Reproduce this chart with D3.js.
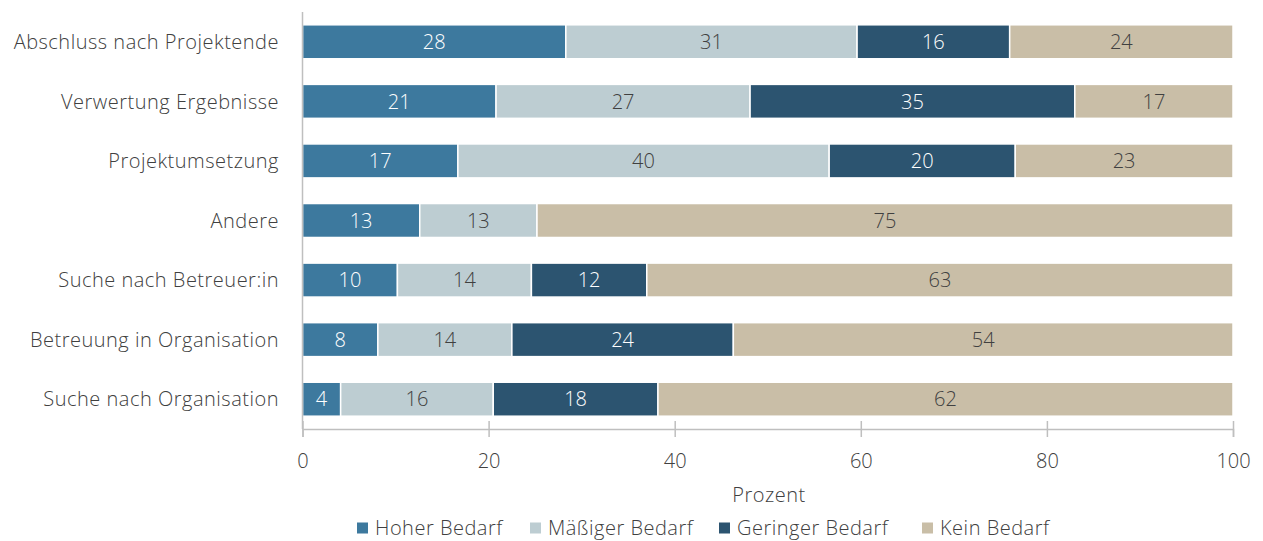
<!DOCTYPE html>
<html>
<head>
<meta charset="utf-8">
<script src="https://cdn.jsdelivr.net/npm/d3@7"></script>
<style>
  body { margin: 0; background: #fff; }
  text { font-family: "Open Sans", sans-serif; font-weight: 300; }
</style>
</head>
<body>
<script>
var w = 1263;
var h = 541;

var categories = ["Abschluss nach Projektende", "Verwertung Ergebnisse", "Projektumsetzung", "Andere",
                  "Suche nach Betreuer:in", "Betreuung in Organisation", "Suche nach Organisation"];
var seriesNames = ["Hoher Bedarf", "Mäßiger Bedarf", "Geringer Bedarf", "Kein Bedarf"];
var seriesColors = ["#3d799e", "#bdcdd2", "#2c5470", "#c9bea7"];
var labelColors = ["#ffffff", "#404040", "#ffffff", "#404040"];

// percent per category
var hoher    = [28.3, 20.8, 16.7, 12.6, 10.2,  8.1,  4.1];
var maessig  = [31.3, 27.3, 39.9, 12.6, 14.4, 14.4, 16.4];
var geringer = [16.4, 34.9, 20.0,  0.0, 12.4, 23.8, 17.7];
var kein     = [24.0, 17.0, 23.4, 74.8, 63.0, 53.7, 61.8];
var xTicks = [0, 20, 40, 60, 80, 100];

var margin = {left: 302.5, right: 30, top: 12, bottom: 112};
var fontSize = "20px";

var rows = categories.map(function(c, i) {
  return {cat: c, "Hoher Bedarf": hoher[i], "Mäßiger Bedarf": maessig[i],
          "Geringer Bedarf": geringer[i], "Kein Bedarf": kein[i]};
});

var stack = d3.stack().keys(seriesNames)(rows);

var x = d3.scaleLinear().domain([0, 100]).range([margin.left, 1233]);
var y = d3.scaleBand().domain(categories).range([margin.top, 429]).paddingInner(0.43).paddingOuter(0.215);

var svg = d3.select("body").append("svg").attr("width", w).attr("height", h);

svg.selectAll("g.series")
   .data(stack).enter()
   .append("g")
   .attr("class", "series")
   .each(function(s, si) {
     var g = d3.select(this);
     g.selectAll("rect").data(s).enter().append("rect")
      .attr("x", function(d) { return x(d[0]); })
      .attr("y", function(d) { return y(d.data.cat); })
      .attr("width", function(d) { return Math.max(0, x(d[1]) - x(d[0])); })
      .attr("height", y.bandwidth())
      .attr("fill", seriesColors[si])
      .attr("stroke", "#fff")
      .attr("stroke-width", 1.5);
     g.selectAll("text").data(s.filter(function(d) { return d[1] - d[0] > 0; })).enter().append("text")
      .attr("x", function(d) { return (x(d[0]) + x(d[1])) / 2; })
      .attr("y", function(d) { return y(d.data.cat) + y.bandwidth() / 2; })
      .attr("dy", "0.36em")
      .attr("text-anchor", "middle")
      .attr("fill", labelColors[si])
      .style("font-size", fontSize)
      .text(function(d) { return Math.round(d[1] - d[0]); });
   });

// y axis: line + category labels
svg.append("line")
   .attr("x1", margin.left).attr("x2", margin.left)
   .attr("y1", margin.top).attr("y2", 429)
   .attr("stroke", "#bfbfbf").attr("stroke-width", 1.5);

svg.selectAll("text.cat")
   .data(categories).enter()
   .append("text")
   .attr("class", "cat")
   .attr("x", 279)
   .attr("y", function(d) { return y(d) + y.bandwidth() / 2; })
   .attr("dy", "0.36em")
   .attr("text-anchor", "end")
   .attr("fill", "#404040")
   .style("font-size", fontSize)
   .style("letter-spacing", "0.5px")
   .text(function(d) { return d; });

// x axis
var xAxis = svg.append("g")
   .attr("transform", "translate(0,429)")
   .call(d3.axisBottom(x).tickValues(xTicks).tickSize(8).tickPadding(17));
xAxis.select(".domain").attr("stroke", "#bfbfbf").attr("stroke-width", 1.5);
xAxis.selectAll(".tick line").attr("stroke", "#bfbfbf").attr("stroke-width", 1.5).attr("y1", -8);
xAxis.selectAll(".tick text")
   .attr("fill", "#404040")
   .style("font-size", fontSize)
   .style("font-family", "'Open Sans', sans-serif")
   .style("font-weight", 300);

svg.append("text")
   .attr("x", 769)
   .attr("y", 502)
   .attr("text-anchor", "middle")
   .attr("fill", "#404040")
   .style("font-size", fontSize)
   .style("letter-spacing", "0.5px")
   .text("Prozent");

// legend
var legendX = [357, 530, 719, 922];
var legend = svg.selectAll("g.legend")
   .data(seriesNames).enter()
   .append("g")
   .attr("class", "legend")
   .attr("transform", function(d, i) { return "translate(" + legendX[i] + ",528)"; });
legend.append("rect")
   .attr("x", 0).attr("y", -5.5).attr("width", 11).attr("height", 11)
   .attr("fill", function(d, i) { return seriesColors[i]; });
legend.append("text")
   .attr("x", 18).attr("dy", "0.36em")
   .attr("fill", "#404040")
   .style("font-size", fontSize)
   .style("letter-spacing", "0.5px")
   .text(function(d) { return d; });
</script>
</body>
</html>
